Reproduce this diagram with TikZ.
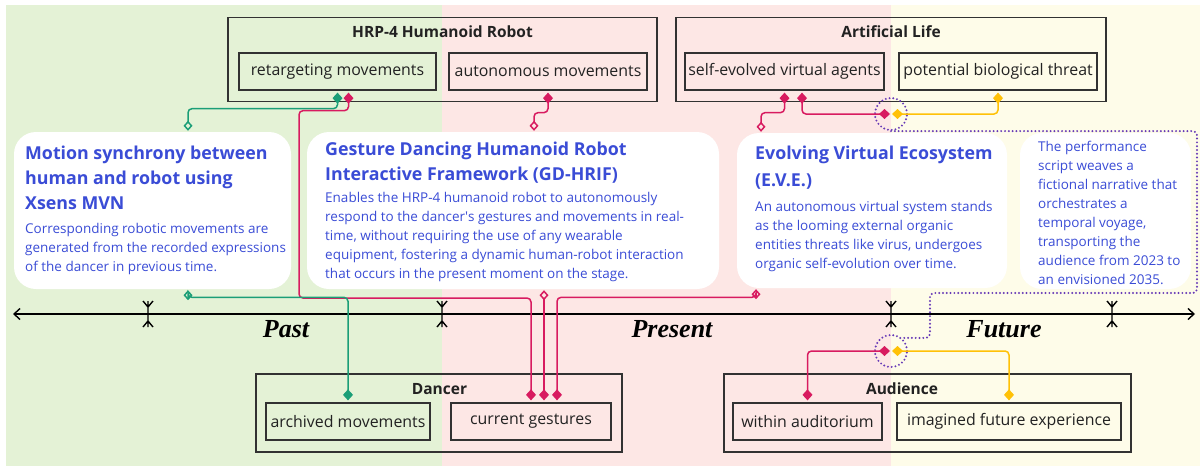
\documentclass[tikz,border=0pt]{standalone}
\usepackage{fontspec}
\setmainfont{Open Sans}
\newfontfamily\eraserif{Liberation Serif}
\usetikzlibrary{arrows.meta}

\definecolor{pastbg}{RGB}{228,242,214}
\definecolor{presentbg}{RGB}{253,231,229}
\definecolor{futurebg}{RGB}{254,252,233}
\definecolor{inkblue}{RGB}{58,76,214}
\definecolor{boxline}{RGB}{50,50,50}
\definecolor{boxtext}{RGB}{34,34,34}
\definecolor{tealline}{RGB}{27,158,119}
\definecolor{pinkline}{RGB}{216,27,96}
\definecolor{goldline}{RGB}{255,193,7}
\definecolor{cueline}{RGB}{103,58,183}

\begin{document}
\begin{tikzpicture}[x=1pt,y=-1pt,
    group/.style={draw=boxline,line width=1.8pt,inner sep=0pt},
    grouptitle/.style={text=boxtext,font=\bfseries\fontsize{15.5}{18}\selectfont},
    part/.style={draw=boxline,line width=1.3pt,minimum height=37pt,inner sep=0pt,text=boxtext,font=\fontsize{15.9}{18}\selectfont},
    card/.style={fill=white,rounded corners=22pt,inner sep=0pt},
    cardhead/.style={anchor=north west,inner sep=0pt,align=left,text=inkblue,font=\bfseries\fontsize{17.8}{25}\selectfont},
    cardbody/.style={anchor=north west,inner sep=0pt,align=left,text=inkblue,font=\fontsize{13.5}{19}\selectfont},
    era/.style={font=\eraserif\bfseries\itshape\fontsize{26}{30}\selectfont},
    link/.style={line width=1.5pt,rounded corners=4pt},
    boxtobox/.style={arrows={Diamond[length=11pt,width=10pt]}-{Diamond[length=11pt,width=10pt]}},
    boxtocard/.style={arrows={Diamond[length=11pt,width=10pt]}-{Diamond[open,length=10pt,width=9pt]}},
    ring/.style={circle,draw=cueline,minimum size=32pt,inner sep=0pt,line width=2.2pt,dash pattern=on 0pt off 3.8pt,line cap=round},
    cue/.style={draw=cueline,line width=2.2pt,dash pattern=on 0pt off 3.8pt,line cap=round,rounded corners=4pt},
    timeline/.style={line width=1.4pt,black}]
    \useasboundingbox (0,0) rectangle (1203,466);

    \fill[pastbg] (6,5) rectangle (442,466);
    \fill[presentbg] (442,5) rectangle (891,466);
    \fill[futurebg] (891,5) rectangle (1200,466);

    \node[group,minimum width=429pt,minimum height=84pt] (hrp) at (442.5,59.5) {};
    \node[grouptitle] (hrpt) at (442.5,32) {HRP-4 Humanoid Robot};
    \node[part,minimum width=197pt] (ret) at (337.5,71.5) {retargeting movements};
    \node[part,minimum width=198pt] (aut) at (548,71.5) {autonomous movements};

    \node[group,minimum width=430pt,minimum height=84pt] (alife) at (891,59.5) {};
    \node[grouptitle] (alifet) at (891,32) {Artificial Life};
    \node[part,minimum width=199pt] (sev) at (784.5,71.5) {self-evolved virtual agents};
    \node[part,minimum width=198pt] (bio) at (998,71.5) {potential biological threat};

    \node[group,minimum width=366pt,minimum height=78pt] (dancer) at (439,413) {};
    \node[grouptitle] (dancert) at (439.5,389) {Dancer};
    \node[part,minimum width=164pt] (arc) at (348,421.5) {archived movements};
    \node[part,minimum width=160pt] (cur) at (531,421.5) {current gestures};

    \node[group,minimum width=407pt,minimum height=78pt] (crowd) at (927.5,413) {};
    \node[grouptitle] (crowdt) at (902,389) {Audience};
    \node[part,minimum width=149pt] (aud) at (807.5,421.5) {within auditorium};
    \node[part,minimum width=224pt] (img) at (1009,421.5) {imagined future experience};

    \node[card,minimum width=277pt,minimum height=157pt] (c1) at (152.5,210.5) {};
    \node[card,minimum width=412pt,minimum height=157pt] (c2) at (513,210.5) {};
    \node[card,minimum width=270pt,minimum height=155pt] (c3) at (872,210.5) {};
    \node[card,minimum width=171pt,minimum height=156pt] (c4) at (1105.5,211) {};

    \node[cardhead] (c1h) at (25,146) {Motion synchrony between\\human and robot using\\Xsens MVN};
    \node[cardbody] (c1b) at (25,223) {Corresponding robotic movements are\\generated from the recorded expressions\\of the dancer in previous time.};
    \node[cardhead] (c2h) at (325,142) {Gesture Dancing Humanoid Robot\\Interactive Framework (GD-HRIF)};
    \node[cardbody] (c2b) at (325,192) {Enables the HRP-4 humanoid robot to autonomously\\respond to the dancer\textquotesingle s gestures and movements in real-\\time, without requiring the use of any wearable\\equipment, fostering a dynamic human-robot interaction\\that occurs in the present moment on the stage.};
    \node[cardhead,font=\bfseries\fontsize{17.8}{27}\selectfont] (c3h) at (755,145.5) {Evolving Virtual Ecosystem\\(E.V.E.)};
    \node[cardbody] (c3b) at (755,201.5) {An autonomous virtual system stands\\as the looming external organic\\entities threats like virus, undergoes\\organic self-evolution over time.};
    \node[cardbody] (c4b) at (1038,141) {The performance\\script weaves a\\fictional narrative that\\orchestrates a\\temporal voyage,\\transporting the\\audience from 2023 to\\an envisioned 2035.};

    \coordinate (tl) at (13,314);
    \coordinate (tr) at (1195,314);
    \draw[timeline,arrows={Straight Barb[length=6pt,width=11pt]}-{Straight Barb[length=6pt,width=11pt]}] (tl) -- (tr);
    \foreach \t in {148,442,891,1112}
        \draw[timeline] (\t,301) -- (\t,327) (\t-5,301) -- (\t,307) -- (\t+5,301) (\t-5,327) -- (\t,321) -- (\t+5,327);
    \node[era] (past) at (286,329) {Past};
    \node[era] (present) at (672,329) {Present};
    \node[era] (future) at (1004,329) {Future};

    \draw[link,boxtocard,tealline] ([yshift=-2pt]ret.south) -- ++(0,16) -| ([xshift=35.5pt,yshift=1pt]c1.north);
    \draw[link,boxtobox,pinkline] ([xshift=11pt,yshift=-2pt]ret.south) -- ++(0,18) -| (299,298) -| ([yshift=2pt]cur.north);
    \draw[link,boxtocard,tealline] ([yshift=2pt]arc.north) -- ++(0,-103) -| ([xshift=35.5pt,yshift=-1pt]c1.south);
    \draw[link,boxtocard,pinkline] ([xshift=13pt,yshift=2pt]cur.north) -- ([xshift=31pt,yshift=-1pt]c2.south);
    \draw[link,boxtocard,pinkline] ([xshift=26pt,yshift=2pt]cur.north) -- ++(0,-103) -| ([xshift=-116pt,yshift=-1pt]c3.south);
    \draw[link,boxtocard,pinkline] ([yshift=-2pt]aut.south) -- ++(0,20) -| ([xshift=21pt,yshift=1pt]c2.north);
    \draw[link,boxtocard,pinkline] ([yshift=-2pt]sev.south) -- ++(0,20) -| ([xshift=-111pt,yshift=1pt]c3.north);

    \node[ring] (r1) at (891,114) {};
    \node[ring] (r2) at (891,351) {};
    \draw[link,boxtobox,pinkline] ([xshift=17.5pt,yshift=-2pt]sev.south) |- ([xshift=-1pt]r1.center);
    \draw[link,boxtobox,goldline] ([yshift=-2pt]bio.south) |- ([xshift=1pt]r1.center);
    \draw[link,boxtobox,pinkline] ([yshift=2pt]aud.north) |- ([xshift=-1pt]r2.center);
    \draw[link,boxtobox,goldline] ([yshift=2pt]img.north) |- ([xshift=1pt]r2.center);
    \draw[cue] (r1.south) -- ++(306,0) |- (930,293) |- (r2.50);
\end{tikzpicture}
\end{document}
